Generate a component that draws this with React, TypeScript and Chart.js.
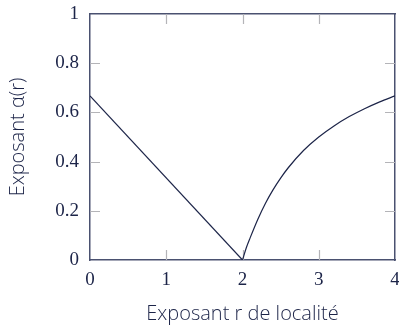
import React, { useEffect, useRef } from "react";
import { Chart, registerables } from "chart.js";

Chart.register(...registerables);

const leftX = [0, 2];
const leftY = [0.667, 0];
const rightX = [2, 2.05, 2.1, 2.2, 2.3, 2.4, 2.5, 2.6, 2.8, 3.0, 3.2, 3.4, 3.6, 3.8, 4.0];
const rightY = [0, 0.05, 0.09, 0.165, 0.23, 0.285, 0.333, 0.375, 0.445, 0.5, 0.545, 0.583, 0.615, 0.643, 0.667];
const xTicks = [1, 2, 3];
const yTicks = [0.2, 0.4, 0.6, 0.8];

const NAVY = "#1c2448";
const AXIS = "#4a5170";
const TICK = "#b4b4b8";

const innerTicks = {
  id: "innerTicks",
  beforeDatasetsDraw(chart: any) {
    const { ctx, chartArea, scales } = chart;
    const len = 10;
    ctx.save();
    ctx.strokeStyle = TICK;
    ctx.lineWidth = 1.2;
    ctx.beginPath();
    xTicks.forEach((v) => {
      const px = Math.round(scales.x.getPixelForValue(v)) + 0.5;
      ctx.moveTo(px, chartArea.bottom);
      ctx.lineTo(px, chartArea.bottom - len);
      ctx.moveTo(px, chartArea.top);
      ctx.lineTo(px, chartArea.top + len);
    });
    yTicks.forEach((v) => {
      const py = Math.round(scales.y.getPixelForValue(v)) + 0.5;
      ctx.moveTo(chartArea.left, py);
      ctx.lineTo(chartArea.left + len, py);
      ctx.moveTo(chartArea.right, py);
      ctx.lineTo(chartArea.right - len, py);
    });
    ctx.stroke();
    ctx.restore();
  },
};

function zeroPad(s: any) {
  s.paddingLeft = 0;
  s.paddingRight = 0;
  s.paddingTop = 0;
  s.paddingBottom = 0;
}

export default function App() {
  const ref = useRef<HTMLCanvasElement>(null);
  useEffect(() => {
    if (!ref.current) return;
    const tickFont = { family: "'Liberation Serif', serif", size: 19 };
    const titleFont = { family: "'Open Sans', sans-serif", size: 20, weight: "300", lineHeight: 1 };
    const chart = new Chart(ref.current, {
      type: "line",
      data: {
        datasets: [
          {
            data: leftX.map((x, i) => ({ x, y: leftY[i] })),
            borderColor: NAVY,
            borderWidth: 1.2,
            pointRadius: 0,
            tension: 0,
          },
          {
            data: rightX.map((x, i) => ({ x, y: rightY[i] })),
            borderColor: NAVY,
            borderWidth: 1.2,
            pointRadius: 0,
            cubicInterpolationMode: "monotone",
          },
        ],
      },
      options: {
        animation: false,
        responsive: false,
        events: [],
        layout: { padding: { top: 14, right: 4, left: 0, bottom: 0 } },
        plugins: { legend: { display: false }, tooltip: { enabled: false } },
        scales: {
          x: {
            type: "linear",
            position: "bottom",
            min: 0,
            max: 4,
            ticks: { stepSize: 1, font: tickFont, color: NAVY, padding: 9, maxRotation: 0 },
            grid: { display: false, drawTicks: false },
            border: { display: true, color: AXIS, width: 1.5 },
            title: { display: true, text: "Exposant r de localité", font: titleFont, color: NAVY, padding: { top: 0, bottom: 0.5 } },
            afterFit(s: any) { s.height = 65; zeroPad(s); },
          },
          x2: {
            type: "linear",
            position: "top",
            display: true,
            min: 0,
            max: 4,
            ticks: { display: false },
            grid: { display: false, drawTicks: false },
            border: { display: true, color: AXIS, width: 1.5 },
            afterFit(s: any) { s.height = 0; zeroPad(s); },
          },
          y: {
            type: "linear",
            position: "left",
            min: 0,
            max: 1,
            ticks: {
              stepSize: 0.2,
              font: tickFont,
              color: NAVY,
              padding: 11,
              callback: (v: any) => String(Number(Number(v).toFixed(1))),
            },
            grid: { display: false, drawTicks: false },
            border: { display: true, color: AXIS, width: 1.5 },
            title: { display: true, text: "Exposant α(r)", font: titleFont, color: NAVY, padding: { top: 8.5, bottom: 0 } },
            afterFit(s: any) { s.width = 90; zeroPad(s); },
          },
          y2: {
            type: "linear",
            position: "right",
            display: true,
            min: 0,
            max: 1,
            ticks: { display: false },
            grid: { display: false, drawTicks: false },
            border: { display: true, color: AXIS, width: 1.5 },
            afterFit(s: any) { s.width = 0; zeroPad(s); },
          },
        },
      } as any,
      plugins: [innerTicks],
    });
    return () => chart.destroy();
  }, []);
  return (
    <div style={{ position: "absolute", left: 0, top: 0, width: 399, height: 325, background: "#fff" }}>
      <canvas ref={ref} width={399} height={325} />
    </div>
  );
}
